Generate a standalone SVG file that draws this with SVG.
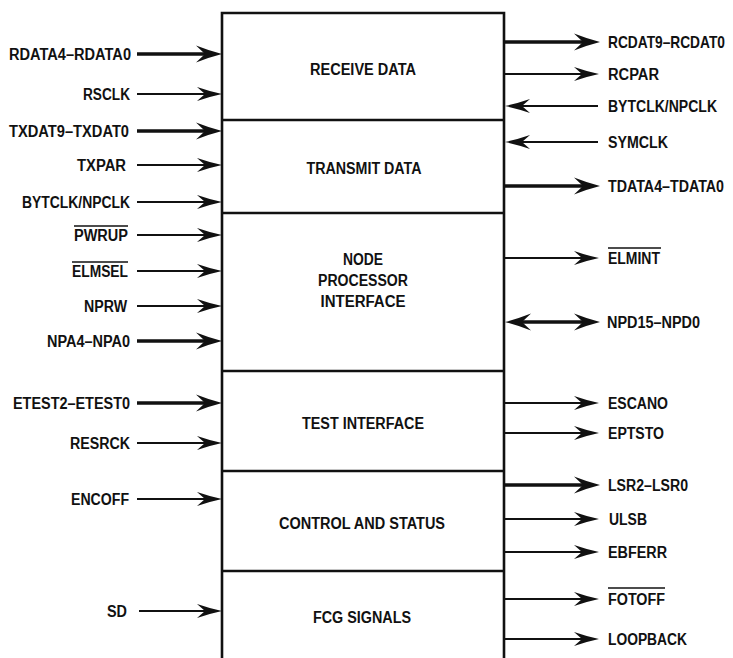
<svg xmlns="http://www.w3.org/2000/svg" width="733" height="658" viewBox="0 0 733 658">
  <style>
    .lbl { font-family: "Liberation Sans", Arial, sans-serif; font-size: 16px; font-weight: bold; fill: #111; }
    .blk { font-family: "Liberation Sans", Arial, sans-serif; font-size: 16px; font-weight: bold; fill: #111; text-anchor: middle; }
    .edge { stroke: #111; stroke-width: 2.6; fill: none; }
    .sig { stroke: #111; stroke-width: 1.8; fill: none; }
    .bus { stroke: #111; stroke-width: 3.6; fill: none; }
    .bar { stroke: #111; stroke-width: 1.4; }
  </style>
  <defs>
    <marker id="head" markerUnits="userSpaceOnUse" viewBox="-14 -9 28 18" markerWidth="28" markerHeight="18" refX="0" refY="0" orient="auto">
      <path d="M12,0 Q0,-2.5 -13,-7 L-5,0 L-13,7 Q0,2.5 12,0Z" fill="#111"/>
    </marker>
    <marker id="headBus" markerUnits="userSpaceOnUse" viewBox="-14 -10 28 20" markerWidth="28" markerHeight="20" refX="0" refY="0" orient="auto">
      <path d="M12,0 Q0,-3 -14,-8.5 L-5,0 L-14,8.5 Q0,3 12,0Z" fill="#111"/>
    </marker>
    <marker id="headStart" markerUnits="userSpaceOnUse" viewBox="-14 -10 28 20" markerWidth="28" markerHeight="20" refX="0" refY="0" orient="auto-start-reverse">
      <path d="M12,0 Q0,-3 -14,-8.5 L-5,0 L-14,8.5 Q0,3 12,0Z" fill="#111"/>
    </marker>
  </defs>

  <!-- main chip block, open at the bottom -->
  <g id="chip">
    <path class="edge" d="M222,658 V13 H504 V658"/>
  </g>

  <g id="receive-data">
    <line class="edge" x1="222" y1="120" x2="504" y2="120"/>
    <text class="blk" x="363" y="75" textLength="106" lengthAdjust="spacingAndGlyphs">RECEIVE DATA</text>
  </g>
  <g id="transmit-data">
    <line class="edge" x1="222" y1="213" x2="504" y2="213"/>
    <text class="blk" x="364" y="174" textLength="115" lengthAdjust="spacingAndGlyphs">TRANSMIT DATA</text>
  </g>
  <g id="node-processor-interface">
    <line class="edge" x1="222" y1="371" x2="504" y2="371"/>
    <text class="blk" x="363" y="265" textLength="40" lengthAdjust="spacingAndGlyphs">NODE</text>
    <text class="blk" x="363" y="286" textLength="90" lengthAdjust="spacingAndGlyphs">PROCESSOR</text>
    <text class="blk" x="363" y="307" textLength="85" lengthAdjust="spacingAndGlyphs">INTERFACE</text>
  </g>
  <g id="test-interface">
    <line class="edge" x1="222" y1="471" x2="504" y2="471"/>
    <text class="blk" x="363" y="429" textLength="122" lengthAdjust="spacingAndGlyphs">TEST INTERFACE</text>
  </g>
  <g id="control-and-status">
    <line class="edge" x1="222" y1="571" x2="504" y2="571"/>
    <text class="blk" x="362" y="529" textLength="166" lengthAdjust="spacingAndGlyphs">CONTROL AND STATUS</text>
  </g>
  <g id="fcg-signals">
    <text class="blk" x="362" y="623" textLength="98" lengthAdjust="spacingAndGlyphs">FCG SIGNALS</text>
  </g>

  <!-- signal connectors -->
  <g id="connectors">
    <!-- inputs on the left side -->
    <line class="bus" x1="137" y1="54" x2="210" y2="54" marker-end="url(#headBus)"/>
    <line class="sig" x1="137" y1="94" x2="210" y2="94" marker-end="url(#head)"/>
    <line class="bus" x1="137" y1="131" x2="210" y2="131" marker-end="url(#headBus)"/>
    <line class="sig" x1="137" y1="165" x2="210" y2="165" marker-end="url(#head)"/>
    <line class="sig" x1="137" y1="202" x2="210" y2="202" marker-end="url(#head)"/>
    <line class="sig" x1="137" y1="235" x2="210" y2="235" marker-end="url(#head)"/>
    <line class="sig" x1="137" y1="271" x2="210" y2="271" marker-end="url(#head)"/>
    <line class="sig" x1="137" y1="306" x2="210" y2="306" marker-end="url(#head)"/>
    <line class="bus" x1="137" y1="341" x2="210" y2="341" marker-end="url(#headBus)"/>
    <line class="bus" x1="137" y1="403" x2="210" y2="403" marker-end="url(#headBus)"/>
    <line class="sig" x1="137" y1="443" x2="210" y2="443" marker-end="url(#head)"/>
    <line class="sig" x1="137" y1="499" x2="210" y2="499" marker-end="url(#head)"/>
    <line class="sig" x1="139" y1="611" x2="210" y2="611" marker-end="url(#head)"/>

    <!-- right side -->
    <line class="bus" x1="504" y1="42" x2="588" y2="42" marker-end="url(#headBus)"/>
    <line class="sig" x1="504" y1="74" x2="587" y2="74" marker-end="url(#head)"/>
    <line class="sig" x1="598" y1="106" x2="517" y2="106" marker-end="url(#head)"/>
    <line class="sig" x1="598" y1="142" x2="517" y2="142" marker-end="url(#head)"/>
    <line class="bus" x1="504" y1="186" x2="588" y2="186" marker-end="url(#headBus)"/>
    <line class="sig" x1="504" y1="258" x2="587" y2="258" marker-end="url(#head)"/>
    <line class="bus" x1="517" y1="322" x2="588" y2="322" marker-start="url(#headStart)" marker-end="url(#headBus)"/>
    <line class="sig" x1="504" y1="403" x2="587" y2="403" marker-end="url(#head)"/>
    <line class="sig" x1="504" y1="433" x2="587" y2="433" marker-end="url(#head)"/>
    <line class="bus" x1="504" y1="485" x2="588" y2="485" marker-end="url(#headBus)"/>
    <line class="sig" x1="504" y1="519" x2="587" y2="519" marker-end="url(#head)"/>
    <line class="sig" x1="504" y1="552" x2="587" y2="552" marker-end="url(#head)"/>
    <line class="sig" x1="504" y1="599" x2="587" y2="599" marker-end="url(#head)"/>
    <line class="sig" x1="504" y1="639" x2="587" y2="639" marker-end="url(#head)"/>
  </g>

  <!-- pin labels, left -->
  <g id="labels-left" text-anchor="end">
    <text class="lbl" x="131" y="60" textLength="122" lengthAdjust="spacingAndGlyphs">RDATA4–RDATA0</text>
    <text class="lbl" x="130" y="100" textLength="47" lengthAdjust="spacingAndGlyphs">RSCLK</text>
    <text class="lbl" x="129" y="137" textLength="120" lengthAdjust="spacingAndGlyphs">TXDAT9–TXDAT0</text>
    <text class="lbl" x="126" y="171" textLength="49" lengthAdjust="spacingAndGlyphs">TXPAR</text>
    <text class="lbl" x="130" y="208" textLength="108" lengthAdjust="spacingAndGlyphs">BYTCLK/NPCLK</text>
    <text class="lbl" x="128" y="241" textLength="54" lengthAdjust="spacingAndGlyphs">PWRUP</text>
    <text class="lbl" x="128" y="277" textLength="56" lengthAdjust="spacingAndGlyphs">ELMSEL</text>
    <text class="lbl" x="127" y="312" textLength="43" lengthAdjust="spacingAndGlyphs">NPRW</text>
    <text class="lbl" x="130" y="347" textLength="83" lengthAdjust="spacingAndGlyphs">NPA4–NPA0</text>
    <text class="lbl" x="130" y="409" textLength="117" lengthAdjust="spacingAndGlyphs">ETEST2–ETEST0</text>
    <text class="lbl" x="130" y="449" textLength="60" lengthAdjust="spacingAndGlyphs">RESRCK</text>
    <text class="lbl" x="129" y="505" textLength="58" lengthAdjust="spacingAndGlyphs">ENCOFF</text>
    <text class="lbl" x="127" y="617" textLength="20" lengthAdjust="spacingAndGlyphs">SD</text>
  </g>
  <line class="bar" x1="74" y1="226" x2="128" y2="226"/>
  <line class="bar" x1="72" y1="262" x2="128" y2="262"/>

  <!-- pin labels, right; the two longest are narrowed so they stay inside the sheet -->
  <g id="labels-right">
    <text class="lbl" transform="translate(608,48) scale(0.85,1)" textLength="137.6" lengthAdjust="spacingAndGlyphs">RCDAT9–RCDAT0</text>
    <text class="lbl" x="608" y="80" textLength="51" lengthAdjust="spacingAndGlyphs">RCPAR</text>
    <text class="lbl" x="608" y="112" textLength="109" lengthAdjust="spacingAndGlyphs">BYTCLK/NPCLK</text>
    <text class="lbl" x="608" y="148" textLength="60" lengthAdjust="spacingAndGlyphs">SYMCLK</text>
    <text class="lbl" transform="translate(608,192) scale(0.85,1)" textLength="136.5" lengthAdjust="spacingAndGlyphs">TDATA4–TDATA0</text>
    <text class="lbl" x="608" y="264" textLength="52" lengthAdjust="spacingAndGlyphs">ELMINT</text>
    <text class="lbl" x="607" y="328" textLength="93" lengthAdjust="spacingAndGlyphs">NPD15–NPD0</text>
    <text class="lbl" x="608" y="409" textLength="60" lengthAdjust="spacingAndGlyphs">ESCANO</text>
    <text class="lbl" x="608" y="439" textLength="56" lengthAdjust="spacingAndGlyphs">EPTSTO</text>
    <text class="lbl" x="608" y="491" textLength="80" lengthAdjust="spacingAndGlyphs">LSR2–LSR0</text>
    <text class="lbl" x="609" y="525" textLength="38" lengthAdjust="spacingAndGlyphs">ULSB</text>
    <text class="lbl" x="608" y="558" textLength="59" lengthAdjust="spacingAndGlyphs">EBFERR</text>
    <text class="lbl" x="608" y="605" textLength="57" lengthAdjust="spacingAndGlyphs">FOTOFF</text>
    <text class="lbl" x="608" y="645" textLength="79" lengthAdjust="spacingAndGlyphs">LOOPBACK</text>
  </g>
  <line class="bar" x1="608" y1="248" x2="661" y2="248"/>
  <line class="bar" x1="608" y1="588" x2="665" y2="588"/>
</svg>
